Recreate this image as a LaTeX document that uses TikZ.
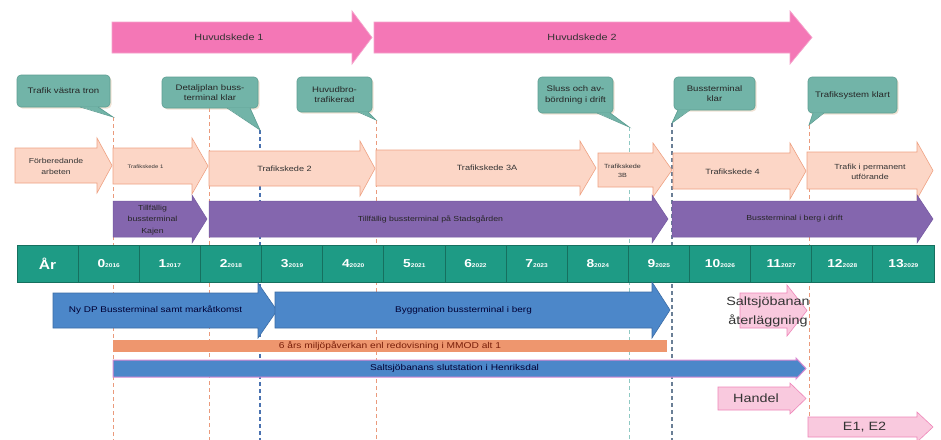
\documentclass[tikz,border=0pt]{standalone}
\usepackage{fontspec}
\setmainfont[FakeStretch=1.2]{Liberation Sans}
\usetikzlibrary{shadows}
\definecolor{hpink}{HTML}{F477B6}
\definecolor{hpinkline}{HTML}{F5A3CC}
\definecolor{peach}{HTML}{FCD6C6}
\definecolor{peachline}{HTML}{EFA283}
\definecolor{purp}{HTML}{8466AE}
\definecolor{purpline}{HTML}{7458A0}
\definecolor{yteal}{HTML}{1E9B85}
\definecolor{ytealline}{HTML}{16705F}
\definecolor{callfill}{HTML}{72B4A8}
\definecolor{callline}{HTML}{5E9E93}
\definecolor{blu}{HTML}{4C87C9}
\definecolor{bluline}{HTML}{3B6DA6}
\definecolor{orng}{HTML}{EE966E}
\definecolor{lpink}{HTML}{F9C9DE}
\definecolor{lpinkline}{HTML}{EF86B9}
\definecolor{dashorange}{HTML}{EA9A7C}
\definecolor{dashblue}{HTML}{4A72B0}
\definecolor{dashteal}{HTML}{8FC9C3}
\definecolor{dashgray}{HTML}{6A7F96}
\definecolor{txt}{HTML}{333333}
\definecolor{mkbtxt}{HTML}{7A1F0A}
\definecolor{salline}{HTML}{D98AD2}
\newcommand\fs[2]{\fontsize{#1}{#2}\selectfont}
% #1 style, #2 x start, #3 head start, #4 tip, #5 body top, #6 body bottom, #7 head extension, #8 node options, #9 text
\newcommand\blockarrow[9]{%
  \draw[#1] (#2,#5) -- (#3,#5) -- (#3,{#5-#7}) -- (#4,{(#5+#6)/2}) -- (#3,{#6+#7}) -- (#3,#6) -- (#2,#6) -- cycle;
  \node[align=center,inner sep=0pt,#8] at ({(#2+#3)/2},{(#5+#6)/2}) {#9};}
\tikzset{
  huvud/.style={fill=hpink,draw=hpinkline,line width=0.7pt},
  phase/.style={fill=peach,draw=peachline,line width=0.6pt},
  purparrow/.style={fill=purp,draw=purpline,line width=0.5pt},
  bluarrow/.style={fill=blu,draw=bluline,line width=0.6pt},
  pinkarrow/.style={fill=lpink,draw=lpinkline,line width=0.6pt},
  salarrow/.style={fill=blu,draw=salline,line width=1pt},
  callbox/.style={fill=callfill,draw=callline,line width=0.6pt,rounded corners=4pt,align=center,
    inner sep=1pt,text=black!85,font=\fs{8}{10.5},
    drop shadow={shadow xshift=1.5pt,shadow yshift=-1.5pt,fill=brown!45,opacity=0.5}},
  yearcell/.style={fill=yteal,draw=ytealline,line width=0.8pt,minimum width=61.13pt,minimum height=37pt,
    inner sep=0pt,text=white},
  dashor/.style={draw=dashorange,line width=0.9pt,dash pattern=on 4pt off 3pt},
  dashbl/.style={draw=dashblue,line width=1.3pt,dash pattern=on 4pt off 3pt},
  dashtl/.style={draw=dashteal,line width=0.9pt,dash pattern=on 4pt off 3pt},
  dashgr/.style={draw=dashgray,line width=1.3pt,dash pattern=on 4pt off 3pt},
}
\begin{document}
\begin{tikzpicture}[x=1pt,y=-1pt]
\useasboundingbox (0,0) rectangle (941,439);
\fill[white] (0,0) rectangle (941,439);
\clip (0,0) rectangle (941,439);

% ---- vertical milestone lines
\coordinate (t1) at (113,117); \coordinate (b1) at (113,445);
\coordinate (t2) at (209,108); \coordinate (b2) at (209,445);
\coordinate (t3) at (260,130); \coordinate (b3) at (260,445);
\coordinate (t4) at (376,120); \coordinate (b4) at (376,445);
\coordinate (t5) at (629,127); \coordinate (b5) at (629,445);
\coordinate (t6) at (672,123); \coordinate (b6) at (672,445);
\coordinate (t7) at (809,125); \coordinate (b7) at (809,445);
\draw[dashor] (t1) -- (b1);
\draw[dashor] (t2) -- (b2);
\draw[dashbl] (t3) -- (b3);
\draw[dashor] (t4) -- (b4);
\draw[dashtl] (t5) -- (b5);
\draw[dashgr] (t6) -- (b6);
\draw[dashor] (t7) -- (b7);

% ---- main stages
\blockarrow{huvud}{112}{352}{372}{22}{53}{11}{name=hs1,font=\fs{9}{11},text=black!80,xshift=-3pt}{Huvudskede 1}
\blockarrow{huvud}{374}{790}{812}{22}{53}{11}{name=hs2,font=\fs{9}{11},text=black!80}{Huvudskede 2}

% ---- callouts
\node[callbox,minimum width=93pt,minimum height=32pt] (c1) at (63.5,91) {Trafik västra tron};
\fill[callfill] (80,106.5) -- (t1) -- (98,106.5) -- cycle;
\draw[callline,line width=0.6pt] (80,107) -- (t1) -- (98,107);

\node[callbox,minimum width=96pt,minimum height=31pt] (c2) at (210,92.5) {Detaljplan buss-\\terminal klar};
\fill[callfill] (227,107.5) -- (t3) -- (250,107.5) -- cycle;
\draw[callline,line width=0.6pt] (227,108) -- (t3) -- (250,108);

\node[callbox,minimum width=75pt,minimum height=35pt] (c3) at (334.5,94.5) {Huvudbro-\\trafikerad};
\fill[callfill] (358,111.5) -- (t4) -- (368,111.5) -- cycle;
\draw[callline,line width=0.6pt] (358,112) -- (t4) -- (368,112);

\node[callbox,minimum width=75pt,minimum height=36pt] (c4) at (575.5,95) {Sluss och av-\\bördning i drift};
\fill[callfill] (597,112.5) -- (t5) -- (610,112.5) -- cycle;
\draw[callline,line width=0.6pt] (597,113) -- (t5) -- (610,113);

\node[callbox,minimum width=81pt,minimum height=33pt] (c5) at (714.5,93.5) {Bussterminal\\klar};
\fill[callfill] (678,109.5) -- (t6) -- (690,109.5) -- cycle;
\draw[callline,line width=0.6pt] (678,110) -- (t6) -- (690,110);

\node[callbox,minimum width=89pt,minimum height=36pt] (c6) at (852.5,95) {Trafiksystem klart};
\fill[callfill] (813,112.5) -- (t7) -- (824,112.5) -- cycle;
\draw[callline,line width=0.6pt] (813,113) -- (t7) -- (824,113);

% ---- traffic phases
\blockarrow{phase}{15}{97}{112}{148}{183}{10}{name=f0,font=\fs{7.2}{11},text=txt,yshift=-1pt}{Förberedande\\arbeten}
\blockarrow{phase}{113}{192}{208}{148}{184}{10}{name=f1,font=\fs{5}{7},text=txt,xshift=-7pt,yshift=-1pt}{Trafikskede 1}
\blockarrow{phase}{209}{360}{375}{151}{186}{10}{name=f2,font=\fs{7.6}{9},text=txt}{Trafikskede 2}
\blockarrow{phase}{376}{580}{596}{150}{186}{9}{name=f3,font=\fs{7.6}{9},text=txt,xshift=9pt}{Trafikskede 3A}
\blockarrow{phase}{598}{653}{672}{153}{187}{10}{name=f4,font=\fs{6}{8.5},text=txt,xshift=-3pt,yshift=-1pt}{Trafikskede\\3B}
\blockarrow{phase}{673}{790}{806}{153}{189}{10}{name=f5,font=\fs{7.6}{9},text=txt,xshift=1pt,yshift=-1pt}{Trafikskede 4}
\blockarrow{phase}{807}{917}{933}{152}{189}{10}{name=f6,font=\fs{7.4}{10},text=txt,xshift=8pt,yshift=-1pt}{Trafik i permanent\\utförande}

% ---- bus terminals
\blockarrow{purparrow}{113}{192}{207}{201}{237}{6}{name=p1,font=\fs{7.3}{11.5},text=black!85,yshift=-1pt}{Tillfällig\\bussterminal\\Kajen}
\blockarrow{purparrow}{209}{652}{668}{201}{237}{6}{name=p2,font=\fs{7.3}{9},text=black!85}{Tillfällig bussterminal på Stadsgården}
\blockarrow{purparrow}{672}{917}{933}{201}{237}{6}{name=p3,font=\fs{7.3}{9},text=black!85}{Bussterminal i berg i drift}

% ---- year bar
\node[yearcell] (yrlab) at (47.6,263.5) {\fs{13}{14}\bfseries År};
\foreach \n in {0,...,13} {
  \pgfmathtruncatemacro\yr{2016+\n}
  \node[yearcell] (yr\n) at ({17+61.13*(\n+1)+30.565},263.5)
    {{\fs{11.5}{12}\bfseries\n}{\fs{5.5}{6}\bfseries\raisebox{-0.5pt}{\yr}}};
}

% ---- construction
\blockarrow{bluarrow}{53}{258}{277}{293}{328}{10}{name=ndp,font=\fs{8.3}{10},text=blue!20!black}{Ny DP Bussterminal samt markåtkomst}
\blockarrow{bluarrow}{275}{652}{670}{292}{328}{10}{name=byg,font=\fs{8.3}{10},text=blue!20!black}{Byggnation bussterminal i berg}
\node[fill=orng,minimum width=554pt,minimum height=12pt,inner sep=0pt,font=\fs{8.5}{10},text=mkbtxt] (mkb) at (390,346) {6 års miljöpåverkan enl redovisning i MMOD alt 1};
\blockarrow{salarrow}{113}{796}{806}{360}{377}{2}{name=sal,font=\fs{8.5}{10},text=blue!20!black}{Saltsjöbanans slutstation i Henriksdal}

\blockarrow{pinkarrow}{740}{787}{807}{293}{328}{8}{name=atr}{}
\node[align=center,font=\fs{12}{19},text=txt,inner sep=0pt] (atrt) at (768,312) {Saltsjöbanan\\återläggning};
\blockarrow{pinkarrow}{718}{790}{806}{387}{410}{4}{name=han,font=\fs{12}{14},text=txt,xshift=2pt}{Handel}
\blockarrow{pinkarrow}{808}{917}{933}{417}{437}{5}{name=e12,font=\fs{12}{14},text=txt,xshift=2pt}{E1, E2}
\end{tikzpicture}
\end{document}
